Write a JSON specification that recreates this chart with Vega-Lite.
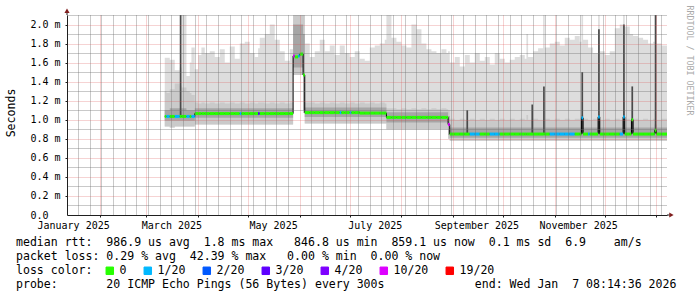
{
  "$schema": "https://vega.github.io/schema/vega-lite/v6.json",
  "width": 600,
  "height": 200,
  "autosize": {"type": "none"},
  "padding": {"left": 67, "top": 15, "right": 30, "bottom": 82},
  "background": "#ffffff",
  "title": {
    "text": [
      "median rtt:\u00a0\u00a0986.9 us avg\u00a0\u00a01.8 ms max\u00a0\u00a0\u00a0846.8 us min\u00a0\u00a0859.1 us now\u00a0\u00a00.1 ms sd\u00a0\u00a06.9\u00a0\u00a0\u00a0\u00a0am/s",
      "packet loss: 0.29 % avg\u00a0\u00a042.39 % max\u00a0\u00a0\u00a00.00 % min\u00a0\u00a00.00 % now",
      "loss color:",
      "probe:\u00a0\u00a0\u00a0\u00a0\u00a0\u00a0\u00a020 ICMP Echo Pings (56 Bytes) every 300s\u00a0\u00a0\u00a0\u00a0\u00a0\u00a0\u00a0\u00a0\u00a0\u00a0\u00a0\u00a0\u00a0end: Wed Jan\u00a0\u00a07 08:14:36 2026"
    ],
    "orient": "bottom",
    "anchor": "start",
    "frame": "group",
    "dx": -51,
    "offset": -40,
    "font": "DejaVu Sans Mono",
    "fontSize": 11.56,
    "fontWeight": "normal",
    "color": "#000000",
    "lineHeight": 14,
    "baseline": "top"
  },
  "datasets": {
    "smoke": [
      {"t": "2025-03-12", "lo": 0.93, "hi": 1.65, "mh": 1.3, "dlo": 0.99, "dhi": 1.1, "med": 1.035, "loss": "0"},
      {"t": "2025-03-13", "lo": 0.93, "hi": 1.65, "mh": 1.28, "dlo": 0.99, "dhi": 1.1, "med": 1.035, "loss": "1/20"},
      {"t": "2025-03-15", "lo": 0.92, "hi": 1.63, "mh": 1.32, "dlo": 0.99, "dhi": 1.12, "med": 1.035, "loss": "0"},
      {"t": "2025-03-18", "lo": 0.93, "hi": 1.52, "mh": 1.38, "dlo": 0.99, "dhi": 1.12, "med": 1.035, "loss": "1/20"},
      {"t": "2025-03-21", "lo": 0.93, "hi": 1.55, "mh": 1.36, "dlo": 0.99, "dhi": 1.12, "med": 1.035, "loss": "0"},
      {"t": "2025-03-22", "lo": 0.93, "hi": 2.1, "mh": 1.34, "dlo": 0.99, "dhi": 1.12, "med": 1.035, "loss": "0"},
      {"t": "2025-03-25", "lo": 0.93, "hi": 1.46, "mh": 1.3, "dlo": 0.99, "dhi": 1.1, "med": 1.035, "loss": "1/20"},
      {"t": "2025-03-27", "lo": 0.93, "hi": 1.6, "mh": 1.28, "dlo": 0.99, "dhi": 1.1, "med": 1.035, "loss": "0"},
      {"t": "2025-03-28", "lo": 0.93, "hi": 1.76, "mh": 1.26, "dlo": 0.99, "dhi": 1.1, "med": 1.035, "loss": "1/20"},
      {"t": "2025-03-30", "lo": 0.95, "hi": 1.53, "mh": 1.18, "dlo": 1.02, "dhi": 1.12, "med": 1.065, "loss": "0"},
      {"t": "2025-04-01", "lo": 0.95, "hi": 1.68, "mh": 1.17, "dlo": 1.02, "dhi": 1.12, "med": 1.065, "loss": "0"},
      {"t": "2025-04-03", "lo": 0.95, "hi": 1.76, "mh": 1.18, "dlo": 1.02, "dhi": 1.12, "med": 1.065, "loss": "0"},
      {"t": "2025-04-05", "lo": 0.95, "hi": 1.7, "mh": 1.17, "dlo": 1.02, "dhi": 1.12, "med": 1.065, "loss": "0"},
      {"t": "2025-04-08", "lo": 0.95, "hi": 1.72, "mh": 1.18, "dlo": 1.02, "dhi": 1.12, "med": 1.065, "loss": "0"},
      {"t": "2025-04-11", "lo": 0.95, "hi": 1.66, "mh": 1.17, "dlo": 1.02, "dhi": 1.12, "med": 1.065, "loss": "0"},
      {"t": "2025-04-14", "lo": 0.95, "hi": 1.74, "mh": 1.18, "dlo": 1.02, "dhi": 1.12, "med": 1.065, "loss": "0"},
      {"t": "2025-04-17", "lo": 0.95, "hi": 1.6, "mh": 1.17, "dlo": 1.02, "dhi": 1.12, "med": 1.065, "loss": "0"},
      {"t": "2025-04-20", "lo": 0.95, "hi": 1.77, "mh": 1.18, "dlo": 1.02, "dhi": 1.12, "med": 1.065, "loss": "0"},
      {"t": "2025-04-23", "lo": 0.95, "hi": 1.64, "mh": 1.17, "dlo": 1.02, "dhi": 1.12, "med": 1.065, "loss": "0"},
      {"t": "2025-04-26", "lo": 0.95, "hi": 1.8, "mh": 1.18, "dlo": 1.02, "dhi": 1.12, "med": 1.065, "loss": "1/20"},
      {"t": "2025-04-27", "lo": 0.95, "hi": 1.8, "mh": 1.18, "dlo": 1.02, "dhi": 1.12, "med": 1.065, "loss": "0"},
      {"t": "2025-04-29", "lo": 0.95, "hi": 1.82, "mh": 1.17, "dlo": 1.02, "dhi": 1.12, "med": 1.065, "loss": "0"},
      {"t": "2025-05-02", "lo": 0.95, "hi": 1.7, "mh": 1.18, "dlo": 1.02, "dhi": 1.12, "med": 1.065, "loss": "0"},
      {"t": "2025-05-05", "lo": 0.95, "hi": 1.66, "mh": 1.17, "dlo": 1.02, "dhi": 1.12, "med": 1.065, "loss": "0"},
      {"t": "2025-05-07", "lo": 0.95, "hi": 1.75, "mh": 1.18, "dlo": 1.02, "dhi": 1.12, "med": 1.065, "loss": "3/20"},
      {"t": "2025-05-08", "lo": 0.95, "hi": 1.86, "mh": 1.18, "dlo": 1.02, "dhi": 1.12, "med": 1.065, "loss": "0"},
      {"t": "2025-05-11", "lo": 0.95, "hi": 1.9, "mh": 1.17, "dlo": 1.02, "dhi": 1.12, "med": 1.065, "loss": "0"},
      {"t": "2025-05-14", "lo": 0.95, "hi": 2.0, "mh": 1.18, "dlo": 1.02, "dhi": 1.12, "med": 1.065, "loss": "0"},
      {"t": "2025-05-17", "lo": 0.95, "hi": 1.84, "mh": 1.17, "dlo": 1.02, "dhi": 1.12, "med": 1.065, "loss": "0"},
      {"t": "2025-05-20", "lo": 0.95, "hi": 1.72, "mh": 1.18, "dlo": 1.02, "dhi": 1.12, "med": 1.065, "loss": "0"},
      {"t": "2025-05-23", "lo": 0.95, "hi": 1.62, "mh": 1.17, "dlo": 1.02, "dhi": 1.12, "med": 1.065, "loss": "0"},
      {"t": "2025-05-26", "lo": 0.95, "hi": 1.74, "mh": 1.18, "dlo": 1.02, "dhi": 1.12, "med": 1.065, "loss": "0"},
      {"t": "2025-05-28", "lo": 1.47, "hi": 2.1, "mh": 2.1, "dlo": 1.55, "dhi": 2.0, "med": 1.67, "loss": "10/20"},
      {"t": "2025-05-29", "lo": 1.47, "hi": 2.1, "mh": 2.1, "dlo": 1.55, "dhi": 2.0, "med": 1.66, "loss": "0"},
      {"t": "2025-05-31", "lo": 1.47, "hi": 2.1, "mh": 2.1, "dlo": 1.55, "dhi": 2.0, "med": 1.67, "loss": "1/20"},
      {"t": "2025-06-01", "lo": 1.47, "hi": 2.1, "mh": 2.1, "dlo": 1.55, "dhi": 2.0, "med": 1.69, "loss": "0"},
      {"t": "2025-06-03", "lo": 1.07, "hi": 2.1, "mh": 2.1, "dlo": 1.1, "dhi": 1.9, "med": 1.47, "loss": "0"},
      {"t": "2025-06-04", "lo": 0.96, "hi": 1.8, "mh": 1.18, "dlo": 1.03, "dhi": 1.13, "med": 1.075, "loss": "0"},
      {"t": "2025-06-07", "lo": 0.96, "hi": 1.66, "mh": 1.18, "dlo": 1.03, "dhi": 1.13, "med": 1.075, "loss": "0"},
      {"t": "2025-06-10", "lo": 0.96, "hi": 1.72, "mh": 1.17, "dlo": 1.03, "dhi": 1.13, "med": 1.075, "loss": "0"},
      {"t": "2025-06-13", "lo": 0.96, "hi": 1.84, "mh": 1.18, "dlo": 1.03, "dhi": 1.13, "med": 1.075, "loss": "0"},
      {"t": "2025-06-16", "lo": 0.96, "hi": 1.72, "mh": 1.17, "dlo": 1.03, "dhi": 1.13, "med": 1.075, "loss": "0"},
      {"t": "2025-06-19", "lo": 0.96, "hi": 1.78, "mh": 1.18, "dlo": 1.03, "dhi": 1.13, "med": 1.075, "loss": "0"},
      {"t": "2025-06-22", "lo": 0.96, "hi": 1.68, "mh": 1.17, "dlo": 1.03, "dhi": 1.13, "med": 1.075, "loss": "0"},
      {"t": "2025-06-25", "lo": 0.96, "hi": 1.78, "mh": 1.18, "dlo": 1.03, "dhi": 1.13, "med": 1.075, "loss": "1/20"},
      {"t": "2025-06-26", "lo": 0.96, "hi": 1.78, "mh": 1.18, "dlo": 1.03, "dhi": 1.13, "med": 1.075, "loss": "0"},
      {"t": "2025-06-28", "lo": 0.96, "hi": 1.7, "mh": 1.17, "dlo": 1.03, "dhi": 1.13, "med": 1.075, "loss": "0"},
      {"t": "2025-07-01", "lo": 0.96, "hi": 1.66, "mh": 1.18, "dlo": 1.03, "dhi": 1.13, "med": 1.075, "loss": "1/20"},
      {"t": "2025-07-02", "lo": 0.96, "hi": 1.66, "mh": 1.18, "dlo": 1.03, "dhi": 1.13, "med": 1.075, "loss": "0"},
      {"t": "2025-07-04", "lo": 0.96, "hi": 1.72, "mh": 1.17, "dlo": 1.03, "dhi": 1.13, "med": 1.075, "loss": "0"},
      {"t": "2025-07-07", "lo": 0.96, "hi": 1.64, "mh": 1.18, "dlo": 1.03, "dhi": 1.13, "med": 1.07, "loss": "0"},
      {"t": "2025-07-10", "lo": 0.96, "hi": 1.62, "mh": 1.17, "dlo": 1.03, "dhi": 1.13, "med": 1.07, "loss": "0"},
      {"t": "2025-07-13", "lo": 0.96, "hi": 1.76, "mh": 1.18, "dlo": 1.03, "dhi": 1.13, "med": 1.07, "loss": "0"},
      {"t": "2025-07-16", "lo": 0.96, "hi": 1.78, "mh": 1.17, "dlo": 1.03, "dhi": 1.13, "med": 1.07, "loss": "0"},
      {"t": "2025-07-19", "lo": 0.96, "hi": 1.8, "mh": 1.18, "dlo": 1.03, "dhi": 1.13, "med": 1.07, "loss": "0"},
      {"t": "2025-07-22", "lo": 0.96, "hi": 1.84, "mh": 1.17, "dlo": 1.03, "dhi": 1.13, "med": 1.07, "loss": "0"},
      {"t": "2025-07-23", "lo": 0.9, "hi": 2.1, "mh": 1.12, "dlo": 0.97, "dhi": 1.08, "med": 1.025, "loss": "0"},
      {"t": "2025-07-26", "lo": 0.9, "hi": 1.86, "mh": 1.12, "dlo": 0.97, "dhi": 1.08, "med": 1.025, "loss": "0"},
      {"t": "2025-07-29", "lo": 0.9, "hi": 1.82, "mh": 1.11, "dlo": 0.97, "dhi": 1.08, "med": 1.025, "loss": "0"},
      {"t": "2025-08-01", "lo": 0.9, "hi": 1.78, "mh": 1.12, "dlo": 0.97, "dhi": 1.08, "med": 1.025, "loss": "0"},
      {"t": "2025-08-04", "lo": 0.9, "hi": 1.76, "mh": 1.11, "dlo": 0.97, "dhi": 1.08, "med": 1.025, "loss": "0"},
      {"t": "2025-08-07", "lo": 0.9, "hi": 2.0, "mh": 1.12, "dlo": 0.97, "dhi": 1.08, "med": 1.025, "loss": "0"},
      {"t": "2025-08-10", "lo": 0.9, "hi": 1.95, "mh": 1.11, "dlo": 0.97, "dhi": 1.08, "med": 1.025, "loss": "0"},
      {"t": "2025-08-13", "lo": 0.9, "hi": 1.8, "mh": 1.12, "dlo": 0.97, "dhi": 1.08, "med": 1.025, "loss": "0"},
      {"t": "2025-08-16", "lo": 0.9, "hi": 1.74, "mh": 1.11, "dlo": 0.97, "dhi": 1.08, "med": 1.025, "loss": "0"},
      {"t": "2025-08-19", "lo": 0.9, "hi": 1.72, "mh": 1.12, "dlo": 0.97, "dhi": 1.08, "med": 1.025, "loss": "0"},
      {"t": "2025-08-22", "lo": 0.9, "hi": 1.7, "mh": 1.11, "dlo": 0.97, "dhi": 1.08, "med": 1.025, "loss": "0"},
      {"t": "2025-08-25", "lo": 0.9, "hi": 1.74, "mh": 1.12, "dlo": 0.97, "dhi": 1.08, "med": 1.025, "loss": "0"},
      {"t": "2025-08-28", "lo": 0.9, "hi": 1.7, "mh": 1.11, "dlo": 0.97, "dhi": 1.08, "med": 1.025, "loss": "0"},
      {"t": "2025-08-29", "lo": 0.8, "hi": 1.72, "mh": 1.1, "dlo": 0.84, "dhi": 1.04, "med": 0.95, "loss": "10/20"},
      {"t": "2025-08-30", "lo": 0.78, "hi": 1.6, "mh": 1.01, "dlo": 0.81, "dhi": 0.92, "med": 0.85, "loss": "0"},
      {"t": "2025-09-02", "lo": 0.78, "hi": 1.66, "mh": 1.0, "dlo": 0.81, "dhi": 0.92, "med": 0.85, "loss": "0"},
      {"t": "2025-09-05", "lo": 0.78, "hi": 1.56, "mh": 1.01, "dlo": 0.81, "dhi": 0.92, "med": 0.85, "loss": "0"},
      {"t": "2025-09-08", "lo": 0.78, "hi": 1.68, "mh": 1.0, "dlo": 0.81, "dhi": 0.92, "med": 0.85, "loss": "0"},
      {"t": "2025-09-11", "lo": 0.78, "hi": 1.6, "mh": 1.01, "dlo": 0.81, "dhi": 0.92, "med": 0.85, "loss": "1/20"},
      {"t": "2025-09-14", "lo": 0.78, "hi": 1.7, "mh": 1.0, "dlo": 0.81, "dhi": 0.92, "med": 0.85, "loss": "1/20"},
      {"t": "2025-09-17", "lo": 0.78, "hi": 1.62, "mh": 1.01, "dlo": 0.81, "dhi": 0.92, "med": 0.85, "loss": "0"},
      {"t": "2025-09-20", "lo": 0.78, "hi": 1.66, "mh": 1.0, "dlo": 0.81, "dhi": 0.92, "med": 0.85, "loss": "0"},
      {"t": "2025-09-23", "lo": 0.78, "hi": 1.58, "mh": 1.01, "dlo": 0.81, "dhi": 0.92, "med": 0.85, "loss": "1/20"},
      {"t": "2025-09-26", "lo": 0.78, "hi": 1.7, "mh": 1.0, "dlo": 0.81, "dhi": 0.92, "med": 0.85, "loss": "1/20"},
      {"t": "2025-09-29", "lo": 0.78, "hi": 1.64, "mh": 1.01, "dlo": 0.81, "dhi": 0.92, "med": 0.85, "loss": "0"},
      {"t": "2025-10-02", "lo": 0.78, "hi": 1.6, "mh": 1.0, "dlo": 0.81, "dhi": 0.92, "med": 0.85, "loss": "0"},
      {"t": "2025-10-05", "lo": 0.78, "hi": 1.63, "mh": 1.01, "dlo": 0.81, "dhi": 0.92, "med": 0.85, "loss": "0"},
      {"t": "2025-10-08", "lo": 0.78, "hi": 1.66, "mh": 1.0, "dlo": 0.81, "dhi": 0.92, "med": 0.85, "loss": "0"},
      {"t": "2025-10-11", "lo": 0.78, "hi": 1.68, "mh": 1.01, "dlo": 0.81, "dhi": 0.92, "med": 0.85, "loss": "0"},
      {"t": "2025-10-14", "lo": 0.78, "hi": 1.64, "mh": 1.0, "dlo": 0.81, "dhi": 0.92, "med": 0.85, "loss": "0"},
      {"t": "2025-10-15", "lo": 0.78, "hi": 1.9, "mh": 1.05, "dlo": 0.81, "dhi": 0.92, "med": 0.85, "loss": "0"},
      {"t": "2025-10-16", "lo": 0.78, "hi": 1.66, "mh": 1.0, "dlo": 0.81, "dhi": 0.92, "med": 0.85, "loss": "0"},
      {"t": "2025-10-19", "lo": 0.78, "hi": 1.72, "mh": 1.01, "dlo": 0.81, "dhi": 0.92, "med": 0.85, "loss": "0"},
      {"t": "2025-10-22", "lo": 0.78, "hi": 1.75, "mh": 1.0, "dlo": 0.81, "dhi": 0.92, "med": 0.85, "loss": "0"},
      {"t": "2025-10-25", "lo": 0.78, "hi": 2.1, "mh": 1.1, "dlo": 0.81, "dhi": 0.92, "med": 0.85, "loss": "0"},
      {"t": "2025-10-26", "lo": 0.78, "hi": 1.76, "mh": 1.01, "dlo": 0.81, "dhi": 0.92, "med": 0.85, "loss": "0"},
      {"t": "2025-10-29", "lo": 0.78, "hi": 1.8, "mh": 1.0, "dlo": 0.81, "dhi": 0.92, "med": 0.85, "loss": "1/20"},
      {"t": "2025-11-01", "lo": 0.78, "hi": 1.82, "mh": 1.01, "dlo": 0.81, "dhi": 0.92, "med": 0.85, "loss": "1/20"},
      {"t": "2025-11-04", "lo": 0.78, "hi": 1.78, "mh": 1.0, "dlo": 0.81, "dhi": 0.92, "med": 0.85, "loss": "1/20"},
      {"t": "2025-11-07", "lo": 0.78, "hi": 1.86, "mh": 1.01, "dlo": 0.81, "dhi": 0.92, "med": 0.85, "loss": "1/20"},
      {"t": "2025-11-10", "lo": 0.78, "hi": 1.84, "mh": 1.0, "dlo": 0.81, "dhi": 0.92, "med": 0.85, "loss": "1/20"},
      {"t": "2025-11-13", "lo": 0.78, "hi": 1.88, "mh": 1.01, "dlo": 0.81, "dhi": 0.92, "med": 0.85, "loss": "0"},
      {"t": "2025-11-16", "lo": 0.78, "hi": 1.82, "mh": 1.0, "dlo": 0.81, "dhi": 0.92, "med": 0.85, "loss": "0"},
      {"t": "2025-11-17", "lo": 0.78, "hi": 2.1, "mh": 1.2, "dlo": 0.81, "dhi": 1.05, "med": 1.02, "loss": "1/20"},
      {"t": "2025-11-18", "lo": 0.78, "hi": 1.84, "mh": 1.01, "dlo": 0.81, "dhi": 0.92, "med": 0.85, "loss": "0"},
      {"t": "2025-11-21", "lo": 0.78, "hi": 1.76, "mh": 1.0, "dlo": 0.81, "dhi": 0.92, "med": 0.85, "loss": "1/20"},
      {"t": "2025-11-22", "lo": 0.78, "hi": 1.76, "mh": 1.0, "dlo": 0.81, "dhi": 0.92, "med": 0.85, "loss": "0"},
      {"t": "2025-11-24", "lo": 0.78, "hi": 1.7, "mh": 1.01, "dlo": 0.81, "dhi": 0.92, "med": 0.85, "loss": "0"},
      {"t": "2025-11-27", "lo": 0.78, "hi": 2.1, "mh": 1.2, "dlo": 0.81, "dhi": 1.06, "med": 1.03, "loss": "1/20"},
      {"t": "2025-11-28", "lo": 0.78, "hi": 1.72, "mh": 1.0, "dlo": 0.81, "dhi": 0.92, "med": 0.85, "loss": "0"},
      {"t": "2025-12-01", "lo": 0.78, "hi": 1.68, "mh": 1.01, "dlo": 0.81, "dhi": 0.92, "med": 0.85, "loss": "0"},
      {"t": "2025-12-04", "lo": 0.78, "hi": 1.72, "mh": 1.0, "dlo": 0.81, "dhi": 0.92, "med": 0.85, "loss": "0"},
      {"t": "2025-12-07", "lo": 0.78, "hi": 1.96, "mh": 1.01, "dlo": 0.81, "dhi": 0.92, "med": 0.85, "loss": "0"},
      {"t": "2025-12-10", "lo": 0.78, "hi": 2.0, "mh": 1.0, "dlo": 0.81, "dhi": 0.92, "med": 0.85, "loss": "1/20"},
      {"t": "2025-12-12", "lo": 0.78, "hi": 2.1, "mh": 1.2, "dlo": 0.81, "dhi": 1.06, "med": 1.03, "loss": "1/20"},
      {"t": "2025-12-13", "lo": 0.78, "hi": 1.98, "mh": 1.01, "dlo": 0.81, "dhi": 0.92, "med": 0.85, "loss": "0"},
      {"t": "2025-12-16", "lo": 0.78, "hi": 1.9, "mh": 1.0, "dlo": 0.81, "dhi": 0.92, "med": 0.85, "loss": "0"},
      {"t": "2025-12-17", "lo": 0.78, "hi": 1.9, "mh": 1.1, "dlo": 0.81, "dhi": 1.02, "med": 1.0, "loss": "0"},
      {"t": "2025-12-18", "lo": 0.78, "hi": 1.88, "mh": 1.01, "dlo": 0.81, "dhi": 0.92, "med": 0.85, "loss": "0"},
      {"t": "2025-12-21", "lo": 0.78, "hi": 1.86, "mh": 1.0, "dlo": 0.81, "dhi": 0.92, "med": 0.85, "loss": "0"},
      {"t": "2025-12-24", "lo": 0.78, "hi": 1.84, "mh": 1.01, "dlo": 0.81, "dhi": 0.92, "med": 0.85, "loss": "0"},
      {"t": "2025-12-27", "lo": 0.78, "hi": 1.8, "mh": 1.0, "dlo": 0.81, "dhi": 0.92, "med": 0.85, "loss": "0"},
      {"t": "2025-12-30", "lo": 0.78, "hi": 1.82, "mh": 1.01, "dlo": 0.81, "dhi": 0.92, "med": 0.85, "loss": "0"},
      {"t": "2025-12-31", "lo": 0.78, "hi": 2.1, "mh": 1.2, "dlo": 0.81, "dhi": 0.95, "med": 0.89, "loss": "0"},
      {"t": "2026-01-01", "lo": 0.78, "hi": 1.8, "mh": 1.0, "dlo": 0.81, "dhi": 0.92, "med": 0.85, "loss": "0"},
      {"t": "2026-01-04", "lo": 0.78, "hi": 1.78, "mh": 1.01, "dlo": 0.81, "dhi": 0.92, "med": 0.85, "loss": "0"},
      {"t": "2026-01-07T08:14:36Z", "lo": 0.78, "hi": 1.78, "mh": 1.01, "dlo": 0.81, "dhi": 0.92, "med": 0.85, "loss": "0"}
    ],
    "spikes": [
      {"t": "2025-03-21T12:00:00Z", "lo": 1.04, "hi": 2.1},
      {"t": "2025-09-09T12:00:00Z", "lo": 0.86, "hi": 1.1},
      {"t": "2025-10-18T12:00:00Z", "lo": 0.86, "hi": 1.16},
      {"t": "2025-10-25T12:00:00Z", "lo": 0.86, "hi": 1.35},
      {"t": "2025-11-17T12:00:00Z", "lo": 0.86, "hi": 1.5},
      {"t": "2025-11-27T12:00:00Z", "lo": 0.86, "hi": 1.95},
      {"t": "2025-12-12T12:00:00Z", "lo": 0.86, "hi": 2.0},
      {"t": "2025-12-17T12:00:00Z", "lo": 0.86, "hi": 1.35},
      {"t": "2025-12-31T12:00:00Z", "lo": 0.86, "hi": 2.1}
    ]
  },
  "layer": [
    {
      "data": {"name": "smoke"},
      "mark": {"type": "area", "interpolate": "step-after", "color": "#dddddd"},
      "encoding": {
        "x": {
          "field": "t", "type": "temporal",
          "scale": {"type": "utc", "domain": [
            {"year": 2025, "month": 1, "date": 12, "hours": 8, "minutes": 14, "seconds": 36, "utc": true},
            {"year": 2026, "month": 1, "date": 7, "hours": 8, "minutes": 14, "seconds": 36, "utc": true}
          ]},
          "axis": null
        },
        "y": {
          "field": "lo", "type": "quantitative",
          "scale": {"domain": [0, 2.1], "nice": false, "zero": true},
          "axis": null
        },
        "y2": {"field": "hi"}
      }
    },
    {
      "data": {"name": "smoke"},
      "mark": {"type": "area", "interpolate": "step-after", "color": "#cacaca"},
      "encoding": {
        "x": {
          "field": "t", "type": "temporal",
          "axis": {
            "orient": "bottom", "offset": 0, "grid": true, "gridDash": [1, 1],
            "gridColor": {"condition": {"test": "utcdate(datum.value) == 1", "value": "#de4f4f"}, "value": "#6f6f6f"},
            "gridOpacity": {"condition": {"test": "utcdate(datum.value) == 1", "value": 0.5}, "value": 0.75},
            "values": [
              {"year": 2025, "month": 1, "date": 19, "utc": true}, {"year": 2025, "month": 1, "date": 26, "utc": true},
              {"year": 2025, "month": 2, "date": 1, "utc": true},
              {"year": 2025, "month": 2, "date": 2, "utc": true}, {"year": 2025, "month": 2, "date": 9, "utc": true},
              {"year": 2025, "month": 2, "date": 16, "utc": true}, {"year": 2025, "month": 2, "date": 23, "utc": true},
              {"year": 2025, "month": 3, "date": 1, "utc": true},
              {"year": 2025, "month": 3, "date": 2, "utc": true}, {"year": 2025, "month": 3, "date": 9, "utc": true},
              {"year": 2025, "month": 3, "date": 16, "utc": true}, {"year": 2025, "month": 3, "date": 23, "utc": true},
              {"year": 2025, "month": 3, "date": 30, "utc": true},
              {"year": 2025, "month": 4, "date": 1, "utc": true},
              {"year": 2025, "month": 4, "date": 6, "utc": true}, {"year": 2025, "month": 4, "date": 13, "utc": true},
              {"year": 2025, "month": 4, "date": 20, "utc": true}, {"year": 2025, "month": 4, "date": 27, "utc": true},
              {"year": 2025, "month": 5, "date": 1, "utc": true},
              {"year": 2025, "month": 5, "date": 4, "utc": true}, {"year": 2025, "month": 5, "date": 11, "utc": true},
              {"year": 2025, "month": 5, "date": 18, "utc": true}, {"year": 2025, "month": 5, "date": 25, "utc": true},
              {"year": 2025, "month": 6, "date": 1, "utc": true},
              {"year": 2025, "month": 6, "date": 8, "utc": true}, {"year": 2025, "month": 6, "date": 15, "utc": true},
              {"year": 2025, "month": 6, "date": 22, "utc": true}, {"year": 2025, "month": 6, "date": 29, "utc": true},
              {"year": 2025, "month": 7, "date": 1, "utc": true},
              {"year": 2025, "month": 7, "date": 6, "utc": true}, {"year": 2025, "month": 7, "date": 13, "utc": true},
              {"year": 2025, "month": 7, "date": 20, "utc": true}, {"year": 2025, "month": 7, "date": 27, "utc": true},
              {"year": 2025, "month": 8, "date": 1, "utc": true},
              {"year": 2025, "month": 8, "date": 3, "utc": true}, {"year": 2025, "month": 8, "date": 10, "utc": true},
              {"year": 2025, "month": 8, "date": 17, "utc": true}, {"year": 2025, "month": 8, "date": 24, "utc": true},
              {"year": 2025, "month": 8, "date": 31, "utc": true},
              {"year": 2025, "month": 9, "date": 1, "utc": true},
              {"year": 2025, "month": 9, "date": 7, "utc": true}, {"year": 2025, "month": 9, "date": 14, "utc": true},
              {"year": 2025, "month": 9, "date": 21, "utc": true}, {"year": 2025, "month": 9, "date": 28, "utc": true},
              {"year": 2025, "month": 10, "date": 1, "utc": true},
              {"year": 2025, "month": 10, "date": 5, "utc": true}, {"year": 2025, "month": 10, "date": 12, "utc": true},
              {"year": 2025, "month": 10, "date": 19, "utc": true}, {"year": 2025, "month": 10, "date": 26, "utc": true},
              {"year": 2025, "month": 11, "date": 1, "utc": true},
              {"year": 2025, "month": 11, "date": 2, "utc": true}, {"year": 2025, "month": 11, "date": 9, "utc": true},
              {"year": 2025, "month": 11, "date": 16, "utc": true}, {"year": 2025, "month": 11, "date": 23, "utc": true},
              {"year": 2025, "month": 11, "date": 30, "utc": true},
              {"year": 2025, "month": 12, "date": 1, "utc": true},
              {"year": 2025, "month": 12, "date": 7, "utc": true}, {"year": 2025, "month": 12, "date": 14, "utc": true},
              {"year": 2025, "month": 12, "date": 21, "utc": true}, {"year": 2025, "month": 12, "date": 28, "utc": true},
              {"year": 2026, "month": 1, "date": 1, "utc": true},
              {"year": 2026, "month": 1, "date": 4, "utc": true}
            ],
            "labels": false, "ticks": true, "tickSize": 2, "tickColor": "#1f1f1f",
            "tickOpacity": {"condition": {"test": "utcdate(datum.value) == 1", "value": 1}, "value": 0},
            "domain": false, "title": null, "zindex": 1
          }
        },
        "y": {
          "field": "lo", "type": "quantitative",
          "axis": {
            "orient": "left", "offset": 0, "grid": true, "gridDash": [1, 1],
            "gridColor": {"condition": {"test": "round(datum.value * 10) % 2 == 0", "value": "#de4f4f"}, "value": "#6f6f6f"},
            "gridOpacity": {"condition": {"test": "round(datum.value * 10) % 2 == 0", "value": 0.5}, "value": 0.75},
            "values": [0.1, 0.2, 0.3, 0.4, 0.5, 0.6, 0.7, 0.8, 0.9, 1.0, 1.1, 1.2, 1.3, 1.4, 1.5, 1.6, 1.7, 1.8, 1.9, 2.0, 2.1],
            "labels": false, "ticks": true, "tickSize": 2, "tickColor": "#1f1f1f",
            "tickOpacity": {"condition": {"test": "round(datum.value * 10) % 2 == 0", "value": 1}, "value": 0},
            "domain": false, "title": null, "zindex": 1
          }
        },
        "y2": {"field": "mh"}
      }
    },
    {
      "data": {"name": "smoke"},
      "mark": {"type": "area", "interpolate": "step-after", "color": "#a6a6a6"},
      "encoding": {
        "x": {
          "field": "t", "type": "temporal",
          "axis": {
            "orient": "bottom", "offset": 0,
            "values": [
              {"year": 2025, "month": 1, "date": 16, "utc": true},
              {"year": 2025, "month": 3, "date": 16, "utc": true},
              {"year": 2025, "month": 5, "date": 16, "utc": true},
              {"year": 2025, "month": 7, "date": 16, "utc": true},
              {"year": 2025, "month": 9, "date": 15, "utc": true},
              {"year": 2025, "month": 11, "date": 15, "utc": true}
            ],
            "labelExpr": "utcFormat(datum.value, '%B %Y')",
            "labelFont": "DejaVu Sans Mono", "labelFontSize": 10, "labelColor": "#000000",
            "labelPadding": 5, "labelBaseline": "top", "labelOverlap": false, "labelFlush": false,
            "ticks": false, "tickSize": 0, "grid": false,
            "domain": true, "domainColor": "#1f1f1f", "title": null, "zindex": 2
          }
        },
        "y": {
          "field": "dlo", "type": "quantitative",
          "axis": {
            "orient": "left", "offset": 0,
            "values": [0, 0.2, 0.4, 0.6, 0.8, 1.0, 1.2, 1.4, 1.6, 1.8, 2.0],
            "labelExpr": "datum.value == 0 ? '0.0' : format(datum.value, '.1f') + ' m'",
            "labelAlign": "left", "labelPadding": 37, "labelBaseline": "middle",
            "labelFont": "DejaVu Sans Mono", "labelFontSize": 10, "labelColor": "#000000",
            "ticks": false, "tickSize": 0, "grid": false,
            "domain": true, "domainColor": "#1f1f1f",
            "title": "Seconds", "titleFont": "DejaVu Sans Mono", "titleFontSize": 11.56,
            "titleFontWeight": "normal", "titleColor": "#000000", "titleAngle": 270,
            "titleX": -56, "titleY": 97.5, "titleAlign": "center", "titleBaseline": "middle", "zindex": 2
          }
        },
        "y2": {"field": "dhi"}
      }
    },
    {
      "data": {"name": "spikes"},
      "mark": {"type": "rule", "color": "#4a4a4a", "strokeWidth": 1.7},
      "encoding": {
        "x": {"field": "t", "type": "temporal", "axis": null},
        "y": {"field": "lo", "type": "quantitative", "axis": null},
        "y2": {"field": "hi"}
      }
    },
    {
      "data": {"name": "smoke"},
      "mark": {"type": "line", "interpolate": "step-after", "color": "#000000", "strokeWidth": 1},
      "encoding": {
        "x": {"field": "t", "type": "temporal", "axis": null},
        "y": {
          "field": "med", "type": "quantitative",
          "axis": {
            "orient": "right", "offset": 0, "title": "RRDTOOL / TOBI OETIKER", "titleAngle": 90,
            "titleX": 21, "titleY": -10, "titleAlign": "left", "titleBaseline": "middle",
            "titleFont": "DejaVu Sans Mono", "titleFontSize": 8.3, "titleFontWeight": "normal", "titleColor": "#aaaaaa",
            "labels": false, "ticks": false, "domain": false, "grid": false
          }
        }
      }
    },
    {
      "data": {"name": "smoke"},
      "transform": [
        {"window": [{"op": "lead", "field": "t", "as": "t2"}], "sort": [{"field": "t", "order": "ascending"}]},
        {"filter": "datum.t2 != null"}
      ],
      "mark": {"type": "rule", "strokeWidth": 3, "strokeCap": "butt"},
      "encoding": {
        "x": {"field": "t", "type": "temporal", "axis": null},
        "x2": {"field": "t2"},
        "y": {"field": "med", "type": "quantitative", "axis": null},
        "color": {
          "field": "loss", "type": "nominal",
          "scale": {
            "domain": ["0", "1/20", "2/20", "3/20", "4/20", "10/20", "19/20"],
            "range": ["#26ff00", "#00b8ff", "#0059ff", "#5e00ff", "#7e00ff", "#dd00ff", "#ff0000"]
          },
          "legend": {
            "orient": "none", "legendX": 37, "legendY": 250, "direction": "horizontal",
            "title": null, "symbolType": "square", "symbolSize": 56, "symbolStrokeWidth": 1,
            "labelFont": "DejaVu Sans Mono", "labelFontSize": 11.56, "labelColor": "#000000",
            "labelOffset": 4, "columnPadding": 15, "padding": 0, "gridAlign": "none",
            "encode": {"symbols": {"update": {
              "fill": {"scale": "color", "field": "value"},
              "stroke": {"value": "#000000"},
              "strokeWidth": {"value": 1},
              "opacity": {"value": 1}
            }}}
          }
        }
      }
    },
    {
      "data": {"values": [{}]},
      "mark": {"type": "rule", "color": "#1f1f1f", "strokeWidth": 1},
      "encoding": {
        "x": {"datum": {"year": 2025, "month": 1, "date": 12, "hours": 8, "minutes": 14, "seconds": 36, "utc": true}, "type": "temporal", "axis": null},
        "y": {"datum": 2.1, "type": "quantitative", "axis": null},
        "y2": {"datum": 2.13}
      }
    },
    {
      "data": {"values": [{}]},
      "mark": {"type": "rule", "color": "#1f1f1f", "strokeWidth": 1},
      "encoding": {
        "x": {"datum": {"year": 2026, "month": 1, "date": 7, "hours": 8, "minutes": 14, "seconds": 36, "utc": true}, "type": "temporal", "axis": null},
        "x2": {"datum": {"year": 2026, "month": 1, "date": 9, "hours": 0, "utc": true}},
        "y": {"datum": 0, "type": "quantitative", "axis": null}
      }
    },
    {
      "data": {"values": [{}]},
      "mark": {"type": "point", "shape": "triangle-up", "filled": true, "size": 26, "color": "#801f1f", "opacity": 1},
      "encoding": {
        "x": {"datum": {"year": 2025, "month": 1, "date": 12, "hours": 8, "minutes": 14, "seconds": 36, "utc": true}, "type": "temporal", "axis": null},
        "y": {"datum": 2.145, "type": "quantitative", "axis": null}
      }
    },
    {
      "data": {"values": [{}]},
      "mark": {"type": "point", "shape": "triangle-right", "filled": true, "size": 26, "color": "#801f1f", "opacity": 1},
      "encoding": {
        "x": {"datum": {"year": 2026, "month": 1, "date": 10, "hours": 0, "utc": true}, "type": "temporal", "axis": null},
        "y": {"datum": 0, "type": "quantitative", "axis": null}
      }
    }
  ],
  "resolve": {"axis": {"x": "independent", "y": "independent"}},
  "config": {
    "view": {"stroke": null},
    "font": "DejaVu Sans Mono",
    "axis": {"labelFont": "DejaVu Sans Mono", "titleFont": "DejaVu Sans Mono"},
    "legend": {"labelFont": "DejaVu Sans Mono", "titleFont": "DejaVu Sans Mono"}
  }
}
